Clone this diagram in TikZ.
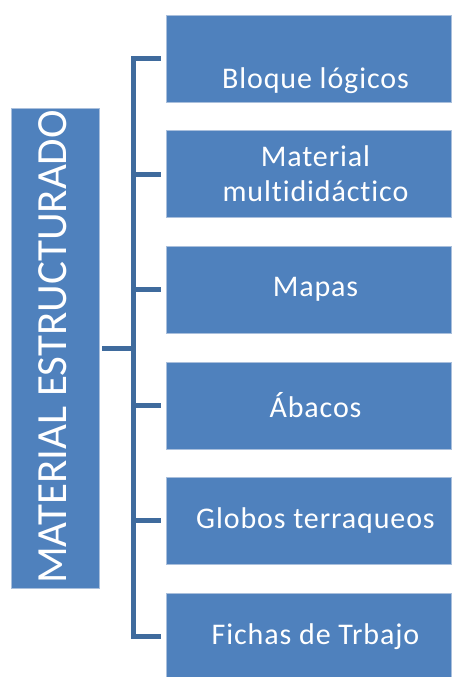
\documentclass[tikz,border=0pt]{standalone}
\usepackage{fontspec}
\setmainfont[Ligatures=NoCommon]{Carlito}
\newfontfamily\boxfont[Ligatures=NoCommon,LetterSpace=3]{Carlito}
\definecolor{boxblue}{HTML}{4F81BD}
\definecolor{brkblue}{HTML}{3F6B9D}
\definecolor{edgeblue}{HTML}{A9BFDC}
\begin{document}
\begin{tikzpicture}[x=1pt,y=-1pt,
  item/.style={draw=edgeblue,line width=0.6pt,fill=boxblue,minimum width=285pt,minimum height=87pt,inner sep=0pt},
  itemtext/.style={text=white,align=center,font=\boxfont\fontsize{30}{35}\selectfont,inner sep=0pt},
  brk/.style={draw=brkblue,line width=5pt}]
\useasboundingbox (0,0) rectangle (460,677);
\node[draw=edgeblue,line width=0.6pt,fill=boxblue,minimum width=88pt,minimum height=480pt,inner sep=0pt] (L) at (55,348) {};
\node[rotate=90,text=white,font=\fontsize{43}{43}\selectfont,inner sep=0pt] (Lt) at (53,347) {MATERIAL ESTRUCTURADO};
\foreach \i/\t/\dy in {1/{Bloque lógicos}/-22,2/{Material\\multididáctico}/0,3/{Mapas}/0,4/{Ábacos}/0,5/{Globos terraqueos}/0,6/{Fichas de Trbajo}/0}{
  \node[item] (b\i) at (308.5,{58.5+115.6*(\i-1)}) {};
  \node[itemtext] (t\i) at ([xshift=7pt,yshift=\dy pt]b\i.center) {\t};
}
\coordinate (sp) at (133,348);
\draw[brk] ([xshift=3pt]L.east) -- (sp);
\draw[brk,line join=miter] ([xshift=-5pt]b1.west) -| (sp) |- ([xshift=-5pt]b6.west);
\foreach \i in {2,3,4,5}{
  \draw[brk] (b\i.west -| sp) -- ([xshift=-5pt]b\i.west);
}
\end{tikzpicture}
\end{document}
